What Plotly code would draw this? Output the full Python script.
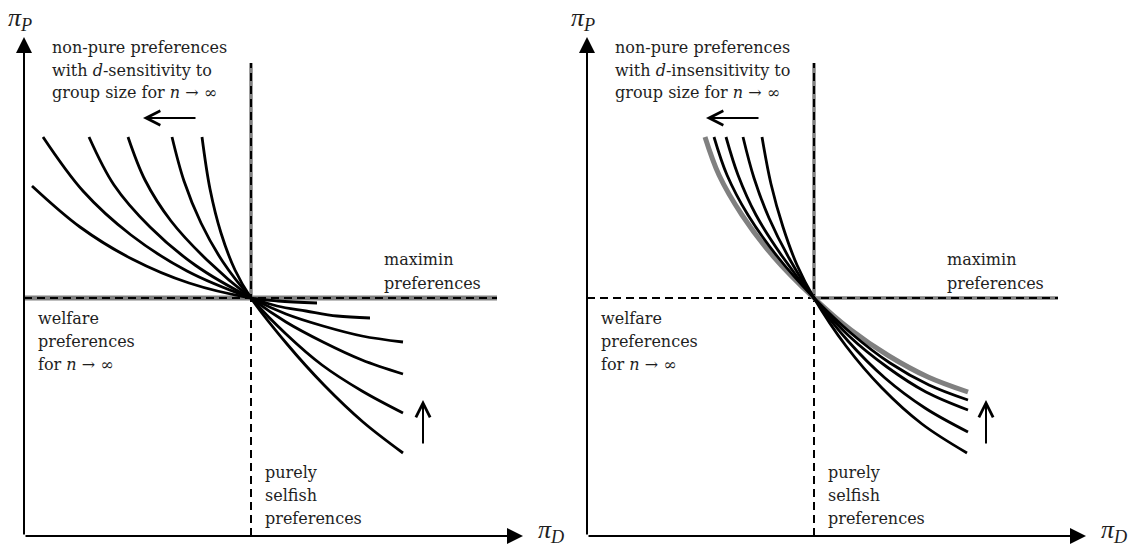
import plotly.graph_objects as go

# Coordinates are measured in plot units from each panel's axis origin.
# Both panels share the same reference point where all curves meet.
CENTER_X, CENTER_Y = 227, 238

# Left panel: curves with d-sensitivity to group size (steepest first)
LEFT_CURVES_X = [
    [178, 186, 197, 211, 227, 263, 300, 339, 379],
    [148, 160, 177, 199, 227, 262, 298, 338, 379],
    [104, 121, 147, 183, 227, 262, 299, 338, 379],
    [65, 90, 126, 171, 227, 262, 299, 338, 379],
    [19, 59, 107, 163, 227, 253, 282, 313, 346],
    [8, 56, 108, 165, 227, 254, 293],
]
LEFT_CURVES_Y = [
    [399, 347, 303, 266, 238, 192, 151, 114, 83],
    [399, 355, 313, 274, 238, 202, 171, 145, 123],
    [399, 356, 315, 276, 238, 214, 194, 176, 162],
    [399, 351, 309, 271, 238, 222, 210, 200, 194],
    [399, 345, 301, 265, 238, 230, 225, 220, 218],
    [350, 309, 277, 253, 238, 235, 233],
]

# Right panel: curves with d-insensitivity (steepest first) and their limit
RIGHT_CURVES_X = [
    [175, 184, 196, 210, 227, 259, 295, 335, 380],
    [156, 167, 182, 202, 227, 261, 298, 338, 381],
    [139, 151, 169, 195, 227, 262, 300, 339, 381],
    [127, 140, 161, 190, 227, 265, 303, 342, 381],
]
RIGHT_CURVES_Y = [
    [399, 352, 309, 271, 238, 190, 148, 112, 83],
    [399, 358, 318, 278, 238, 195, 158, 128, 104],
    [399, 361, 321, 280, 238, 200, 169, 144, 126],
    [399, 361, 321, 280, 238, 202, 173, 151, 136],
]
RIGHT_LIMIT_X = [118, 132, 155, 186, 227, 264, 302, 341, 381]
RIGHT_LIMIT_Y = [399, 361, 321, 280, 238, 206, 180, 159, 144]

# Extents of the reference lines through the centre
AXIS_LEN = 499
VLINE_TOP = 473
HLINE_END_LEFT = 473
HLINE_END_RIGHT = 471

BLACK = "#000000"
GREY = "#808080"
TEXT = "#1e1e1e"
FONT = "DejaVu Serif"
SYMBOL_FONT = "Liberation Serif"

fig = go.Figure()


def line(xs, ys, ax, color, width, dash="solid", shape="linear"):
    fig.add_trace(go.Scatter(
        x=xs, y=ys, mode="lines", xaxis=ax[0], yaxis=ax[1],
        line=dict(color=color, width=width, dash=dash, shape=shape, smoothing=1.0),
        hoverinfo="skip",
    ))


LEFT = ("x", "y")
RIGHT = ("x2", "y2")
DASH = "8px,5px"

# Grey highlights behind the dashed reference lines
line([0, HLINE_END_LEFT], [CENTER_Y, CENTER_Y], LEFT, GREY, 5)
line([CENTER_X, CENTER_X], [CENTER_Y, VLINE_TOP], LEFT, GREY, 3.5)
line([CENTER_X, HLINE_END_RIGHT], [CENTER_Y, CENTER_Y], RIGHT, GREY, 3.5)
line([CENTER_X, CENTER_X], [CENTER_Y, VLINE_TOP], RIGHT, GREY, 3.5)

# Dashed reference lines
for ax, hend in ((LEFT, HLINE_END_LEFT), (RIGHT, HLINE_END_RIGHT)):
    line([0, hend], [CENTER_Y, CENTER_Y], ax, BLACK, 2, DASH)
    line([CENTER_X, CENTER_X], [0, VLINE_TOP], ax, BLACK, 2, DASH)

# Indifference curves
for xs, ys in zip(LEFT_CURVES_X, LEFT_CURVES_Y):
    line(xs, ys, LEFT, BLACK, 2.8, shape="spline")

line(RIGHT_LIMIT_X, RIGHT_LIMIT_Y, RIGHT, GREY, 5, shape="spline")
for xs, ys in zip(RIGHT_CURVES_X, RIGHT_CURVES_Y):
    line(xs, ys, RIGHT, BLACK, 2.8, shape="spline")

annotations = []


def arrow(ax, tail, tip, head, width, size):
    annotations.append(dict(
        xref=ax[0], yref=ax[1], axref=ax[0], ayref=ax[1],
        x=tip[0], y=tip[1], ax=tail[0], ay=tail[1], text="",
        showarrow=True, arrowhead=head, arrowwidth=width, arrowsize=size,
        arrowcolor=BLACK, standoff=0, startstandoff=0,
    ))


def label(ax, x, y, text, size=16, anchor="left", vanchor="middle",
          family=FONT):
    annotations.append(dict(
        xref=ax[0], yref=ax[1], x=x, y=y, text=text, showarrow=False,
        xanchor=anchor, yanchor=vanchor,
        font=dict(family=family, size=size, color=TEXT),
    ))


for ax, sens in ((LEFT, "sensitivity"), (RIGHT, "insensitivity")):
    # axes with arrow heads
    arrow(ax, (0, 0), (AXIS_LEN, 0), 2, 2, 1.6)
    arrow(ax, (0, 0), (0, AXIS_LEN), 2, 2, 1.6)
    label(ax, -4, 535, "<i>π</i><sub><i>P</i></sub>", size=26,
          anchor="center", vanchor="top", family=SYMBOL_FONT)
    label(ax, 512, -13, "<i>π</i><sub><i>D</i></sub>", size=26,
          vanchor="bottom", family=SYMBOL_FONT)

    # direction arrows
    arrow(ax, (173, 418), (119, 418), 5, 2, 1.4)
    arrow(ax, (399, 91), (399, 136), 5, 2, 1.4)

    label(ax, 26, 489, "non-pure preferences")
    label(ax, 26, 466, f"with <i>d</i>-{sens} to")
    label(ax, 26, 444, "group size for <i>n</i> → ∞")

    label(ax, 358, 277, "maximin")
    label(ax, 358, 253, "preferences")

    label(ax, 12, 218, "welfare")
    label(ax, 12, 195, "preferences")
    label(ax, 12, 172, "for <i>n</i> → ∞")

    label(ax, 239, 64, "purely")
    label(ax, 239, 41, "selfish")
    label(ax, 239, 18, "preferences")

hidden = dict(visible=False, showgrid=False, zeroline=False)
fig.update_layout(
    width=1138, height=550,
    margin=dict(l=0, r=0, t=0, b=0),
    paper_bgcolor="white", plot_bgcolor="white",
    showlegend=False,
    xaxis=dict(domain=[0, 0.5], range=[-24, 545], **hidden),
    yaxis=dict(domain=[0, 1], range=[-14, 536], **hidden),
    xaxis2=dict(domain=[0.5, 1], range=[-18, 551], **hidden),
    yaxis2=dict(domain=[0, 1], range=[-14, 536], anchor="x2", **hidden),
    annotations=annotations,
)

fig.write_html("out.html")
